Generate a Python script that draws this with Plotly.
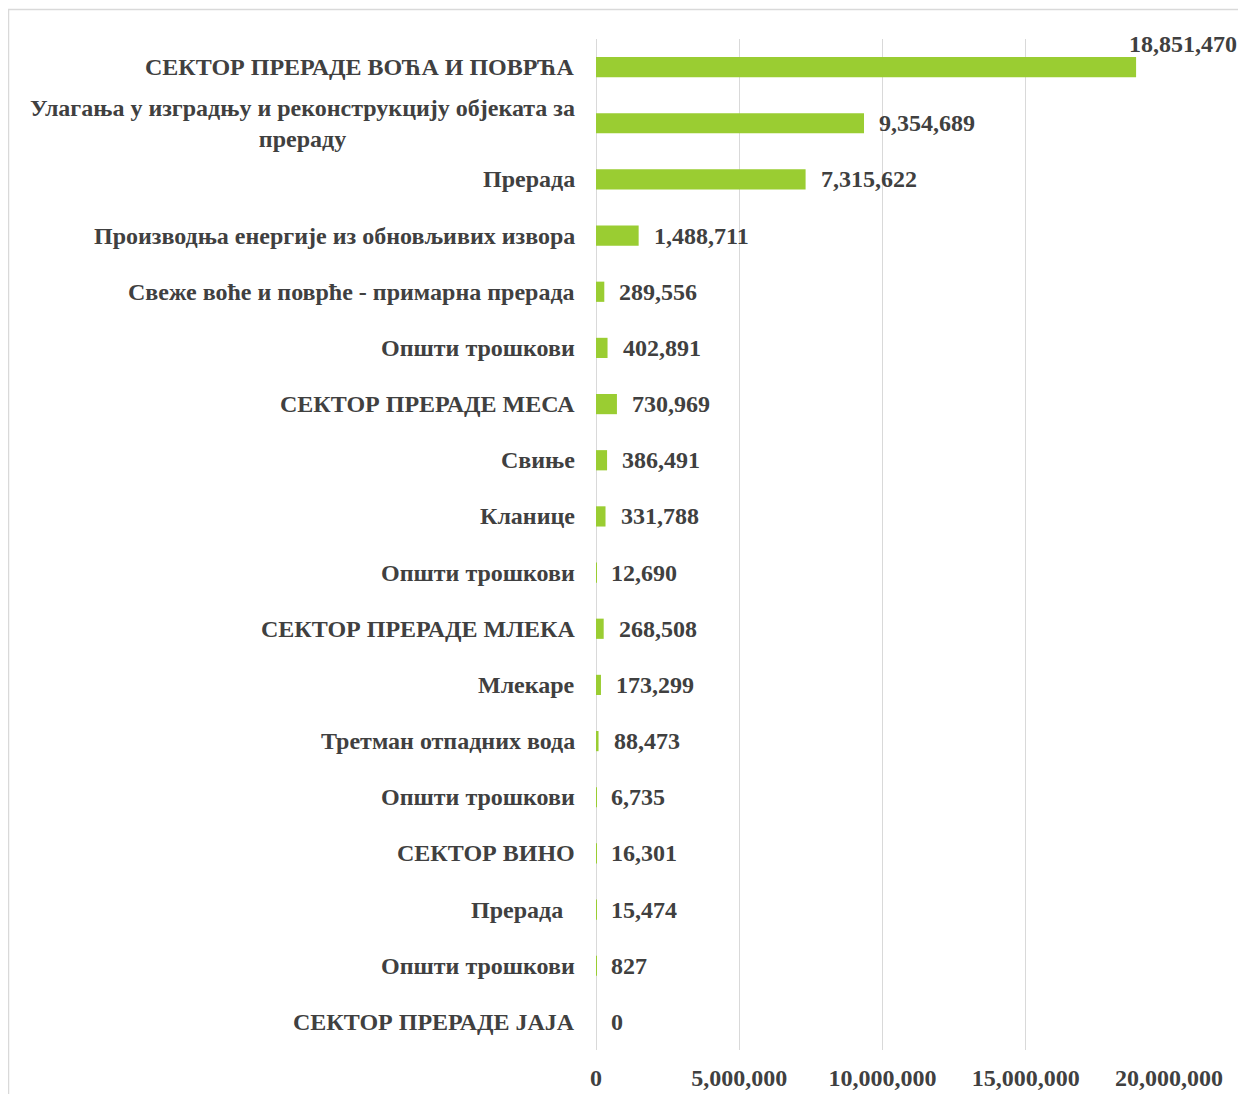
import plotly.graph_objects as go

categories = [
    "СЕКТОР ПРЕРАДЕ ВОЋА И ПОВРЋА",
    "Улагања у изградњу и реконструкцију објеката за<br>прераду",
    "Прерада",
    "Производња енергије из обновљивих извора",
    "Свеже воће и поврће - примарна прерада",
    "Општи трошкови",
    "СЕКТОР ПРЕРАДЕ МЕСА",
    "Свиње",
    "Кланице",
    "Општи трошкови",
    "СЕКТОР ПРЕРАДЕ МЛЕКА",
    "Млекаре",
    "Третман отпадних вода",
    "Општи трошкови",
    "СЕКТОР ВИНО",
    "Прерада\u00a0\u00a0",
    "Општи трошкови",
    "СЕКТОР ПРЕРАДЕ ЈАЈА",
]
values = [18851470, 9354689, 7315622, 1488711, 289556, 402891, 730969, 386491,
          331788, 12690, 268508, 173299, 88473, 6735, 16301, 15474, 827, 0]
tick_vals = [0, 5000000, 10000000, 15000000, 20000000]
tick_text = ["0", "5,000,000", "10,000,000", "15,000,000", "20,000,000"]

FONT = "Liberation Serif"
TXT = "#404040"
FS = 24
positions = list(range(len(categories)))

W, H = 1230, 1086
L, R, T, B = 588, 69, 31, 44
PW, PH = W - L - R, H - T - B

fig = go.Figure()
fig.add_trace(go.Bar(
    x=values, y=positions, orientation="h",
    marker=dict(color="#9ACD32", line=dict(width=0)),
    hoverinfo="x",
))

annotations = []
for i, (cat, v) in enumerate(zip(categories, values)):
    annotations.append(dict(
        x=0, y=i, xref="paper", yref="y", text="<b>%s</b>" % cat,
        xanchor="right", yanchor="middle", align="center", xshift=-19,
        showarrow=False, font=dict(family=FONT, size=FS, color=TXT),
    ))
    label = "<b>{:,}</b>".format(v)
    if i == 0:
        annotations.append(dict(
            x=v, y=i, xref="x", yref="y", text=label,
            xanchor="left", yanchor="middle", xshift=-9, yshift=23,
            showarrow=False, font=dict(family=FONT, size=FS, color=TXT),
        ))
    else:
        annotations.append(dict(
            x=v, y=i, xref="x", yref="y", text=label,
            xanchor="left", yanchor="middle", xshift=13,
            showarrow=False, font=dict(family=FONT, size=FS, color=TXT),
        ))

fig.update_layout(
    width=W, height=H,
    margin=dict(l=L, r=R, t=T, b=B, autoexpand=False),
    paper_bgcolor="white", plot_bgcolor="white",
    bargap=0.64, showlegend=False,
    annotations=annotations,
    shapes=[dict(type="rect", xref="paper", yref="paper",
                 x0=(0.5 - L) / PW, x1=(W + 20 - L) / PW,
                 y0=(PH - (H + 20 - T)) / PH, y1=(PH - (1.5 - T)) / PH,
                 line=dict(color="#d9d9d9", width=1.5), fillcolor="rgba(0,0,0,0)",
                 layer="below")],
    xaxis=dict(range=[0, 20000000], tickvals=tick_vals,
               ticktext=["<b>%s</b>" % t for t in tick_text],
               showgrid=True, gridcolor="#d9d9d9", gridwidth=1.3,
               zeroline=True, zerolinecolor="#d9d9d9", zerolinewidth=1.3,
               showline=False, ticks="", automargin=False,
               tickfont=dict(family=FONT, size=FS, color=TXT), ticklabelstandoff=11),
    yaxis=dict(autorange="reversed", showticklabels=False, showgrid=False,
               zeroline=False, showline=False, ticks="", automargin=False),
    font=dict(family=FONT, size=FS, color=TXT),
)

fig.write_html("out.html")
